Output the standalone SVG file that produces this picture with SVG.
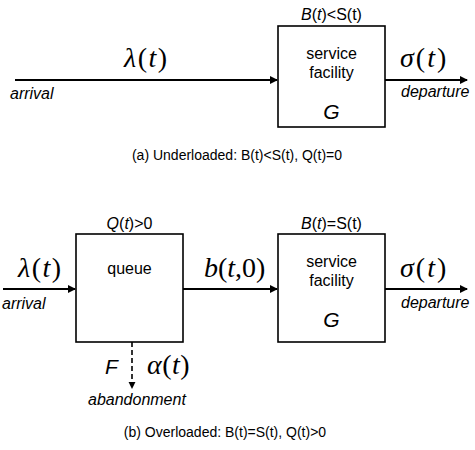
<svg xmlns="http://www.w3.org/2000/svg" width="475" height="450" viewBox="0 0 475 450">
<style>
.box{fill:#fff;stroke:#000;stroke-width:1.6}
.ln{stroke:#000;stroke-width:2;fill:none}
.dash{stroke:#000;stroke-width:1.6;fill:none;stroke-dasharray:5 3}
.s{font-family:"Liberation Sans",Arial,sans-serif;font-size:16px;fill:#000}
.si{font-family:"Liberation Sans",Arial,sans-serif;font-size:16px;font-style:italic;fill:#000}
.g{font-family:"Liberation Sans",Arial,sans-serif;font-size:21px;font-style:italic;fill:#000}
.cap{font-family:"Liberation Sans",Arial,sans-serif;font-size:14px;fill:#000}
.m{font-family:"Liberation Serif","Times New Roman",serif;font-size:28px;fill:#000}
.i{font-style:italic}
</style>
<defs>
<marker id="ah" viewBox="0 0 8 8" refX="7" refY="4" markerWidth="4" markerHeight="4" orient="auto" markerUnits="strokeWidth">
<path d="M0,0 L8,4 L0,8 z" fill="#000"/>
</marker>
<marker id="ahd" viewBox="0 0 8 8" refX="7" refY="4" markerWidth="4.5" markerHeight="4.5" orient="auto" markerUnits="strokeWidth">
<path d="M0,0 L8,4 L0,8 z" fill="#000"/>
</marker>
</defs>

<g id="connectors">
<line class="ln" x1="15" y1="80" x2="277" y2="80" marker-end="url(#ah)"/>
<line class="ln" x1="385" y1="80" x2="467" y2="80" marker-end="url(#ah)"/>
<line class="ln" x1="3" y1="289" x2="75" y2="289" marker-end="url(#ah)"/>
<line class="ln" x1="183" y1="289" x2="277" y2="289" marker-end="url(#ah)"/>
<line class="ln" x1="385" y1="289" x2="467" y2="289" marker-end="url(#ah)"/>
<line class="dash" x1="132" y1="342" x2="132" y2="388" marker-end="url(#ahd)"/>
</g>

<g id="top-service">
<rect class="box" x="278" y="26" width="107" height="101"/>
<text class="s" x="331.5" y="20" text-anchor="middle"><tspan font-style="italic">B</tspan>(<tspan font-style="italic">t</tspan>)&lt;S(t)</text>
<text class="s" x="331.5" y="59" text-anchor="middle">service</text>
<text class="s" x="331.5" y="78" text-anchor="middle">facility</text>
<text class="g" x="331.5" y="119" text-anchor="middle">G</text>
</g>

<g id="top-labels">
<text class="m" x="124" y="67" letter-spacing="1.5"><tspan class="i">λ</tspan>(<tspan class="i">t</tspan>)</text>
<text class="si" x="10" y="99">arrival</text>
<text class="m" x="400" y="67" letter-spacing="2"><tspan class="i">σ</tspan>(<tspan class="i">t</tspan>)</text>
<text class="si" x="401" y="97">departure</text>
<text class="cap" x="237" y="160" text-anchor="middle">(a) Underloaded: B(t)&lt;S(t), Q(t)=0</text>
</g>

<g id="queue">
<rect class="box" x="76" y="234" width="107" height="108"/>
<text class="s" x="129.5" y="229" text-anchor="middle"><tspan font-style="italic">Q</tspan>(<tspan font-style="italic">t</tspan>)&gt;0</text>
<text class="s" x="129.5" y="274" text-anchor="middle">queue</text>
</g>

<g id="bottom-service">
<rect class="box" x="278" y="234" width="107" height="108"/>
<text class="s" x="331.5" y="229" text-anchor="middle"><tspan font-style="italic">B</tspan>(<tspan font-style="italic">t</tspan>)=S(t)</text>
<text class="s" x="331.5" y="267" text-anchor="middle">service</text>
<text class="s" x="331.5" y="286" text-anchor="middle">facility</text>
<text class="g" x="331.5" y="327" text-anchor="middle">G</text>
</g>

<g id="bottom-labels">
<text class="m" x="18" y="277" letter-spacing="1.5"><tspan class="i">λ</tspan>(<tspan class="i">t</tspan>)</text>
<text class="si" x="2" y="309">arrival</text>
<text class="m" x="204" y="277" font-size="26"><tspan class="i">b</tspan>(<tspan class="i">t</tspan>,0)</text>
<text class="m" x="400" y="277" letter-spacing="2"><tspan class="i">σ</tspan>(<tspan class="i">t</tspan>)</text>
<text class="si" x="401" y="308">departure</text>
<text class="g" x="105" y="374">F</text>
<text class="m" x="147" y="374" letter-spacing="0.5"><tspan class="i">α</tspan>(<tspan class="i">t</tspan>)</text>
<text class="si" x="88" y="405">abandonment</text>
<text class="cap" x="225" y="437" text-anchor="middle">(b) Overloaded: B(t)=S(t), Q(t)&gt;0</text>
</g>
</svg>
